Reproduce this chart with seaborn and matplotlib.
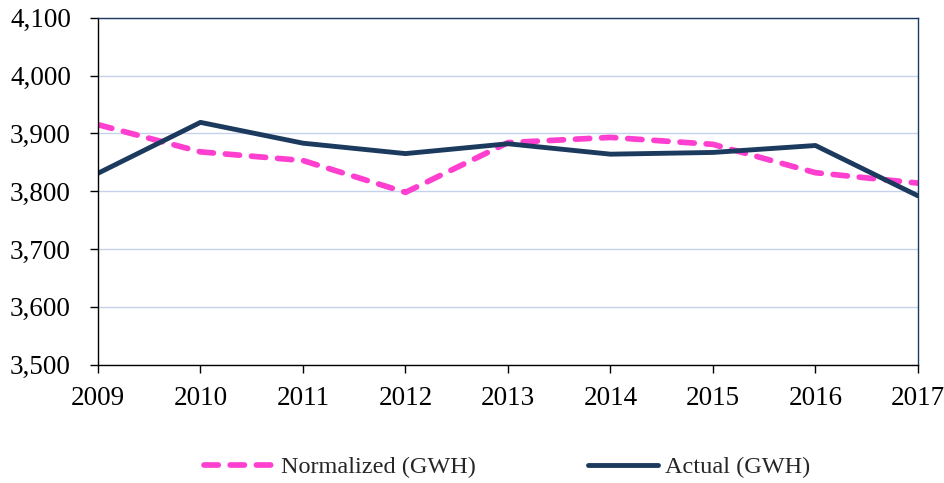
import numpy as np
import pandas as pd
import matplotlib
matplotlib.use("Agg")
import matplotlib.pyplot as plt
import seaborn as sns

# ── data ──────────────────────────────────────────────────────────────────────
years = [2009, 2010, 2011, 2012, 2013, 2014, 2015, 2016, 2017]
normalized = [3915, 3868, 3853, 3798, 3884, 3893, 3881, 3832, 3814]
actual     = [3831, 3919, 3883, 3865, 3882, 3864, 3867, 3879, 3792]
y_ticks = [3500, 3600, 3700, 3800, 3900, 4000, 4100]

df = pd.DataFrame({"year": years, "Normalized (GWH)": normalized, "Actual (GWH)": actual})

# ── style ─────────────────────────────────────────────────────────────────────
sns.set_style("white")
plt.rcParams["font.family"] = ["Liberation Serif", "DejaVu Serif"]

PINK = "#FF3FD0"
NAVY = "#1B3A5E"

fig = plt.figure(figsize=(9.45, 4.83), dpi=100)
ax = fig.add_axes([0.1037, 0.2449, 0.8677, 0.7185])

sns.lineplot(data=df, x="year", y="Normalized (GWH)", ax=ax, color=PINK,
             linewidth=4.1, label="Normalized (GWH)")
ax.lines[-1].set_dashes([2.5, 2.1])
ax.lines[-1].set_dash_capstyle("round")
sns.lineplot(data=df, x="year", y="Actual (GWH)", ax=ax, color=NAVY,
             linewidth=3.5, label="Actual (GWH)")

ax.set_xlim(years[0], years[-1])
ax.set_ylim(y_ticks[0], y_ticks[-1])
ax.set_xticks(years)
ax.set_yticks(y_ticks)
ax.set_yticklabels([f"{v:,}" for v in y_ticks])
ax.set_xlabel("")
ax.set_ylabel("")

ax.grid(axis="y", color="#C4D2EC", linewidth=1.0)
ax.set_axisbelow(True)
for side in ["left", "bottom"]:
    ax.spines[side].set_color("black")
    ax.spines[side].set_linewidth(1.0)
for side in ["top", "right"]:
    ax.spines[side].set_color(NAVY)
    ax.spines[side].set_linewidth(1.0)

ax.tick_params(axis="both", direction="out", length=5.5, width=1, color="black",
               labelsize=19.5, colors="black")
ax.tick_params(axis="y", pad=14, left=True)
ax.tick_params(axis="x", pad=10, bottom=True)

handles, labels = ax.get_legend_handles_labels()
ax.get_legend().remove()
leg = fig.legend(handles, labels, loc="center", bbox_to_anchor=(0.537, 0.033),
                 ncol=2, frameon=False, fontsize=17.5, handlelength=2.88,
                 handletextpad=0.3, columnspacing=4.6)
for h in leg.legend_handles:
    h.set_solid_capstyle("round")
    h.set_dash_capstyle("round")

plt.savefig("out.png", dpi=100)
